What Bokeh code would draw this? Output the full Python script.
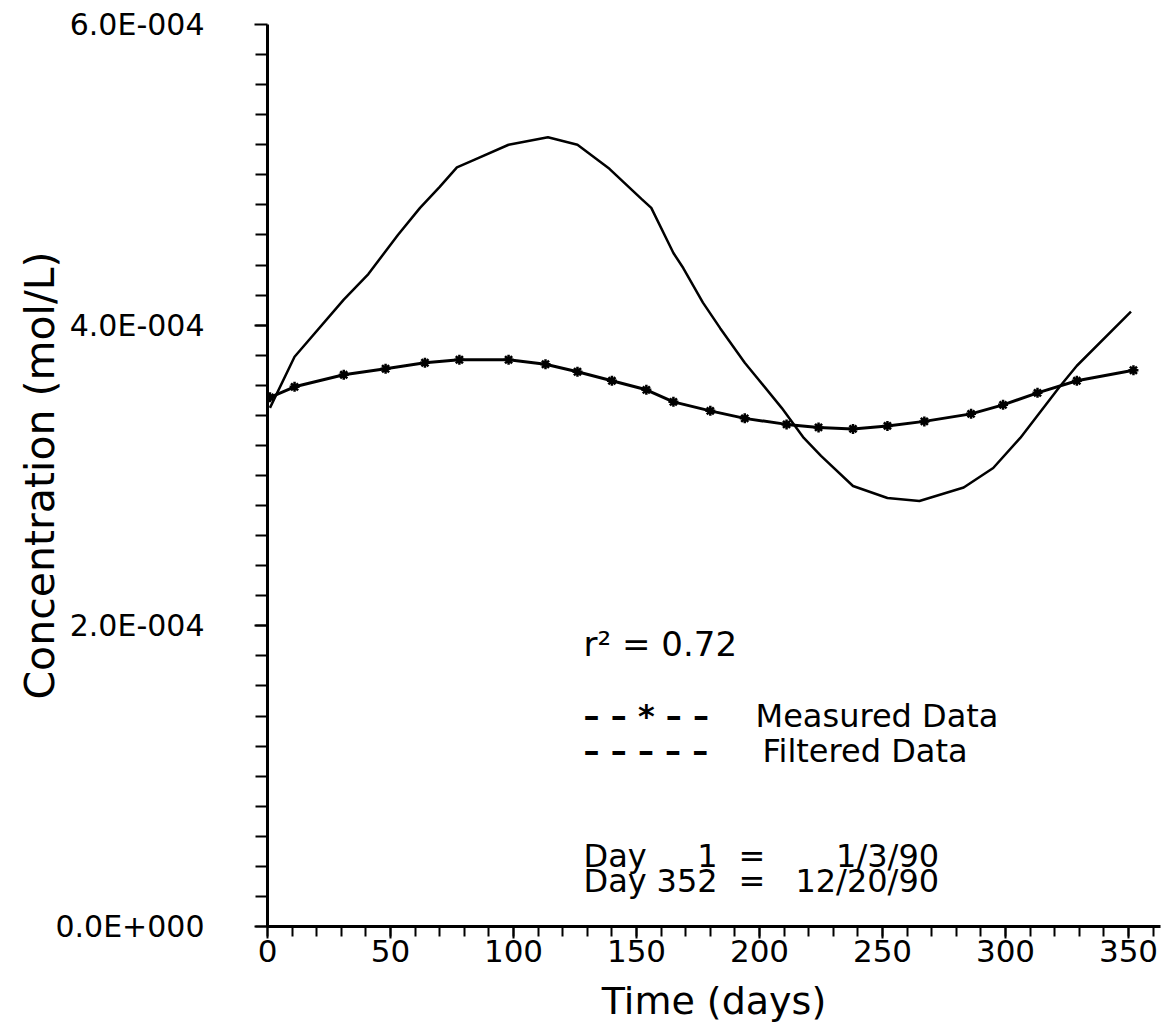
from bokeh.plotting import figure
from bokeh.models import FixedTicker, Label, Range1d
from bokeh.embed import file_html
from bokeh.resources import INLINE

# ---- data ----
meas_day = [1, 11, 31, 48, 64, 78, 98, 113, 126, 140, 154, 165, 180, 194,
            211, 224, 238, 252, 267, 286, 299, 313, 329, 352]
meas_conc = [3.52e-4, 3.59e-4, 3.67e-4, 3.71e-4, 3.75e-4, 3.77e-4, 3.77e-4,
             3.74e-4, 3.69e-4, 3.63e-4, 3.57e-4, 3.49e-4, 3.43e-4, 3.38e-4,
             3.34e-4, 3.32e-4, 3.31e-4, 3.33e-4, 3.36e-4, 3.41e-4, 3.47e-4,
             3.55e-4, 3.63e-4, 3.70e-4]

filt_day = [1, 11, 31, 41, 53, 62, 70, 77, 84, 98, 114, 126, 139, 152, 156,
            165, 169, 177, 184, 194, 198, 209, 218, 225, 238, 252, 265, 283,
            295, 306, 322, 329, 351]
filt_conc = [3.45e-4, 3.79e-4, 4.17e-4, 4.34e-4, 4.60e-4, 4.78e-4, 4.92e-4,
             5.05e-4, 5.10e-4, 5.20e-4, 5.25e-4, 5.20e-4, 5.04e-4, 4.84e-4,
             4.78e-4, 4.48e-4, 4.38e-4, 4.15e-4, 3.98e-4, 3.75e-4, 3.67e-4,
             3.45e-4, 3.25e-4, 3.13e-4, 2.93e-4, 2.85e-4, 2.83e-4, 2.92e-4,
             3.05e-4, 3.25e-4, 3.59e-4, 3.73e-4, 4.09e-4]

x_ticks = [0, 50, 100, 150, 200, 250, 300, 350]
y_ticks = [0.0, 2e-4, 4e-4, 6e-4]
y_tick_labels = ["0.0E+000", "2.0E-004", "4.0E-004", "6.0E-004"]

x_title = "Time (days)"
y_title = "Concentration (mol/L)"
r2_text = "r\u00b2 = 0.72"
meas_name = "Measured Data"
filt_name = "Filtered Data"
date_rows = [("1", "1/3/90"), ("352", "12/20/90")]

# ---- figure ----
p = figure(width=1174, height=1026,
           x_range=Range1d(0, 363), y_range=Range1d(0, 6e-4),
           output_backend="svg", toolbar_location=None,
           min_border_left=267, min_border_right=14,
           min_border_top=24, min_border_bottom=100)
p.xgrid.visible = False
p.ygrid.visible = False
p.outline_line_color = None
p.background_fill_color = "white"
p.border_fill_color = "white"

FONT = "DejaVu Sans"

# x axis
xa = p.xaxis[0]
xa.ticker = FixedTicker(ticks=x_ticks, minor_ticks=list(range(0, 361, 10)))
xa.axis_label = x_title
xa.axis_label_text_font = FONT
xa.axis_label_text_font_size = "38px"
xa.axis_label_text_font_style = "normal"
xa.axis_label_standoff = 14
xa.axis_label_text_color = "black"
xa.major_label_text_font = FONT
xa.major_label_text_font_size = "31px"
xa.major_label_standoff = 1
xa.axis_line_width = 3
xa.axis_line_color = "black"
xa.major_tick_line_width = 2
xa.minor_tick_line_width = 2
xa.major_tick_out = 12
xa.major_tick_in = 0
xa.minor_tick_out = 10
xa.minor_tick_in = 0
xa.major_tick_line_color = "black"
xa.minor_tick_line_color = "black"
xa.major_label_text_color = "black"

# y axis
ya = p.yaxis[0]
ya.ticker = FixedTicker(ticks=y_ticks,
                        minor_ticks=[i * 2e-5 for i in range(31)])
ya.major_label_overrides = dict(zip(y_ticks, y_tick_labels))
ya.axis_label = y_title
ya.axis_label_text_font = FONT
ya.axis_label_text_font_size = "41px"
ya.axis_label_text_font_style = "normal"
ya.axis_label_standoff = -12
ya.axis_label_text_color = "black"
ya.major_label_text_font = FONT
ya.major_label_text_font_size = "30px"
ya.major_label_standoff = 50
ya.axis_line_width = 3
ya.axis_line_color = "black"
ya.major_tick_line_width = 2
ya.minor_tick_line_width = 2
ya.major_tick_out = 13
ya.major_tick_in = 0
ya.minor_tick_out = 12
ya.minor_tick_in = 0
ya.major_tick_line_color = "black"
ya.minor_tick_line_color = "black"
ya.major_label_text_color = "black"

# ---- series ----
p.line(filt_day, filt_conc, line_color="black", line_width=2.5)
p.line(meas_day, meas_conc, line_color="black", line_width=3)
p.scatter(meas_day, meas_conc, marker="asterisk", size=10,
          line_color="black", line_width=2.5)

# ---- annotations ----
TXT = dict(text_font=FONT, text_font_size="32px", text_color="black",
           text_baseline="alphabetic")
SAMPLE = dict(text_font=FONT, text_font_size="32px", text_color="black",
              text_font_style="bold", text_baseline="alphabetic")
p.add_layout(Label(x=128.5, y=1.88e-4, text=r2_text,
                   text_font=FONT, text_font_size="34px", text_color="black",
                   text_baseline="alphabetic"))
p.add_layout(Label(x=128.5, y=1.40e-4, text="\u2013 \u2013 * \u2013 \u2013", **SAMPLE))
p.add_layout(Label(x=198.4, y=1.40e-4, text=meas_name, **TXT))
p.add_layout(Label(x=128.5, y=1.17e-4,
                   text="\u2013 \u2013 \u2013 \u2013 \u2013", **SAMPLE))
p.add_layout(Label(x=201.2, y=1.17e-4, text=filt_name, **TXT))

row_y = [0.47e-4, 0.305e-4]
for (dnum, date), yy in zip(date_rows, row_y):
    p.add_layout(Label(x=128.5, y=yy, text="Day", **TXT))
    p.add_layout(Label(x=183, y=yy, text=dnum, text_align="right", **TXT))
    p.add_layout(Label(x=191.5, y=yy, text="=", **TXT))
    p.add_layout(Label(x=273, y=yy, text=date, text_align="right", **TXT))

open("out.html", "w").write(file_html(p, INLINE))
